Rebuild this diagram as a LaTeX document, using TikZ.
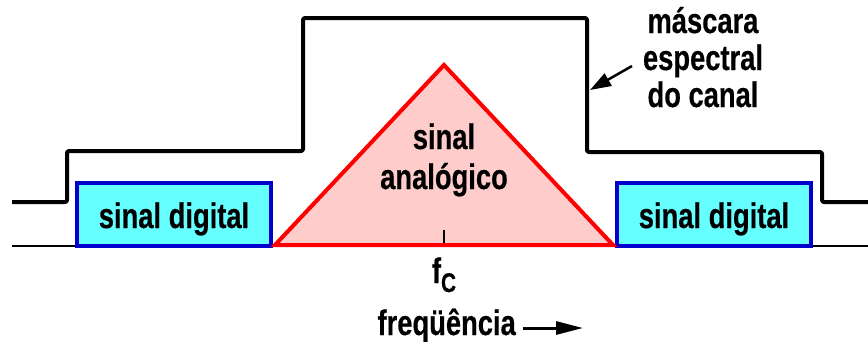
\documentclass[tikz,border=0pt]{standalone}
\usepackage{fontspec}
\setmainfont{Liberation Sans}[BoldFeatures={FakeStretch=0.77,FakeBold=0.4}]
\usetikzlibrary{arrows.meta}
\definecolor{boxfill}{RGB}{102,255,255}
\definecolor{boxline}{RGB}{0,0,204}
\definecolor{trifill}{RGB}{255,204,204}
\definecolor{triline}{RGB}{255,0,0}
\tikzset{
  lbl/.style={font=\bfseries\fontsize{35.5}{38}\selectfont, inner sep=0pt, align=center},
  mask/.style={line width=4pt, line join=round, rounded corners=2pt},
  digbox/.style={draw=boxline, fill=boxfill, line width=4pt},
  tri/.style={draw=triline, fill=trifill, line width=4pt, line join=miter},
  ptr/.style={line width=2.5pt, -{Triangle[length=21pt,width=14pt]}},
}
\begin{document}
\begin{tikzpicture}[x=1pt,y=-1pt]
\useasboundingbox (0,0) rectangle (868,341);
% baseline
\coordinate (b0) at (12,246);
\coordinate (b1) at (868,246);
\draw[line width=2pt] (b0) -- (b1);
% mask
\draw[mask] (12,202) -- (67,202) -- (67,151) -- (303,151) -- (303,18) -- (587,18) -- (587,152) -- (822,152) -- (822,202) -- (868,202);
% digital boxes
\draw[digbox] (77,183) rectangle (271,246);
\draw[digbox] (617,183) rectangle (811,246);
\node[lbl, anchor=base] (dl) at (174,228) {sinal digital};
\node[lbl, anchor=base] (dr) at (714,228) {sinal digital};
% triangle
\coordinate (tl) at (275,245);
\coordinate (tr) at (613,245);
\coordinate (ta) at (444,65);
\draw[tri] (tl) -- (ta) -- (tr) -- cycle;
\node[lbl, anchor=base] (s1) at (444,149) {sinal};
\node[lbl, anchor=base] (s2) at (444,189) {analógico};
% tick
\coordinate (fc) at (444,243);
\draw[line width=2pt] (fc) -- ++(0,-13);
\node[lbl, anchor=base] (fcl) at (444,283) {f\raisebox{-9pt}{\fontsize{27}{28}\selectfont C}};
% frequency label
\node[lbl, anchor=base east] (fq) at (516,335) {freqüência};
\coordinate (fa0) at (523,328);
\coordinate (fa1) at (583,328);
\draw[line width=3pt, -{Triangle[length=27pt,width=13pt]}] (fa0) -- (fa1);
% mask label
\node[lbl, anchor=base] (m1) at (703,33) {máscara};
\node[lbl, anchor=base] (m2) at (703,70) {espectral};
\node[lbl, anchor=base] (m3) at (703,107) {do canal};
\coordinate (mt) at (632,66);
\coordinate (mh) at (590,90);
\draw[ptr] (mt) -- (mh);
\end{tikzpicture}
\end{document}
